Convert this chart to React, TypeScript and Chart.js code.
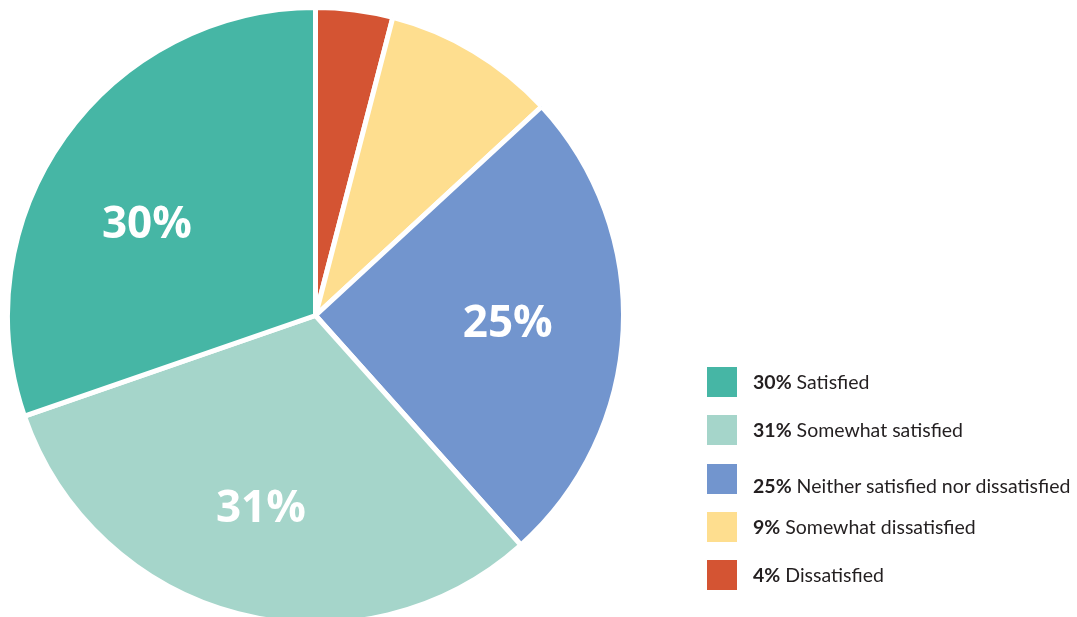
import React, { useEffect, useRef } from "react";
import { Chart, registerables } from "chart.js";

Chart.register(...registerables);

const categories = [
  "Dissatisfied",
  "Somewhat dissatisfied",
  "Neither satisfied nor dissatisfied",
  "Somewhat satisfied",
  "Satisfied",
];
const values = [4, 9, 25, 31, 30];
const colors = ["#D45433", "#FEDE8F", "#7295CE", "#A5D5CA", "#46B6A5"];
const showLabel = [false, false, true, true, true];

const FONT = "'Open Sans', 'Noto Sans', sans-serif";
const LEGEND_FONT = "Lato, 'Open Sans', sans-serif";

const labelPlugin = {
  id: "sliceLabels",
  afterDatasetsDraw(chart: any) {
    const ctx = chart.ctx;
    const meta = chart.getDatasetMeta(0);
    ctx.save();
    ctx.fillStyle = "#ffffff";
    ctx.font = `700 44px ${FONT}`;
    ctx.textAlign = "center";
    ctx.textBaseline = "middle";
    meta.data.forEach((arc: any, i: number) => {
      if (!showLabel[i]) return;
      const p = arc.getProps(["x", "y", "startAngle", "endAngle", "outerRadius"], true);
      // small placement tweaks per slice to follow the original layout
      const angleShift = i === 4 ? -0.13 : i === 3 ? 0.02 : 0;
      const frac = i === 3 ? 0.655 : i === 2 ? 0.625 : 0.62;
      const mid = (p.startAngle + p.endAngle) / 2 + angleShift;
      const r = p.outerRadius * frac;
      ctx.fillText(values[i] + "%", p.x + Math.cos(mid) * r, p.y + Math.sin(mid) * r);
    });
    ctx.restore();
  },
};

export default function App() {
  const ref = useRef<HTMLCanvasElement>(null);
  useEffect(() => {
    if (!ref.current) return;
    const chart = new Chart(ref.current, {
      type: "pie",
      data: {
        labels: categories,
        datasets: [
          {
            data: values,
            backgroundColor: colors,
            borderColor: "#ffffff",
            borderWidth: 5,
          },
        ],
      },
      options: {
        responsive: false,
        animation: false,
        radius: 308,
        layout: { padding: { left: 10, top: 10, right: 1077 - 10 - 611, bottom: 640 - 10 - 611 } },
        plugins: { legend: { display: false }, tooltip: { enabled: false } },
      } as any,
      plugins: [labelPlugin],
    });
    return () => chart.destroy();
  }, []);

  const legendOrder = [4, 3, 2, 1, 0];

  return (
    <div style={{ position: "fixed", left: 0, top: 0, width: 1077, height: 617, overflow: "hidden", background: "#fff" }}>
      <canvas ref={ref} width={1077} height={640} style={{ position: "absolute", left: 0, top: 0 }} />
      <div style={{ position: "absolute", left: 707, top: 367, fontFamily: LEGEND_FONT, fontSize: 19.5, color: "#231f20" }}>
        {legendOrder.map((i, k) => (
          <div key={i} style={{ position: "relative", height: 48.25 }}>
            <div style={{ position: "absolute", left: 0, top: 0, width: 30, height: 30, background: colors[i] }} />
            <div
              style={{
                position: "absolute",
                left: 46,
                top: k === 2 ? 7 : 0,
                height: 30,
                lineHeight: "30px",
                whiteSpace: "nowrap",
              }}
            >
              <b>{values[i]}%</b> {categories[i]}
            </div>
          </div>
        ))}
      </div>
    </div>
  );
}
